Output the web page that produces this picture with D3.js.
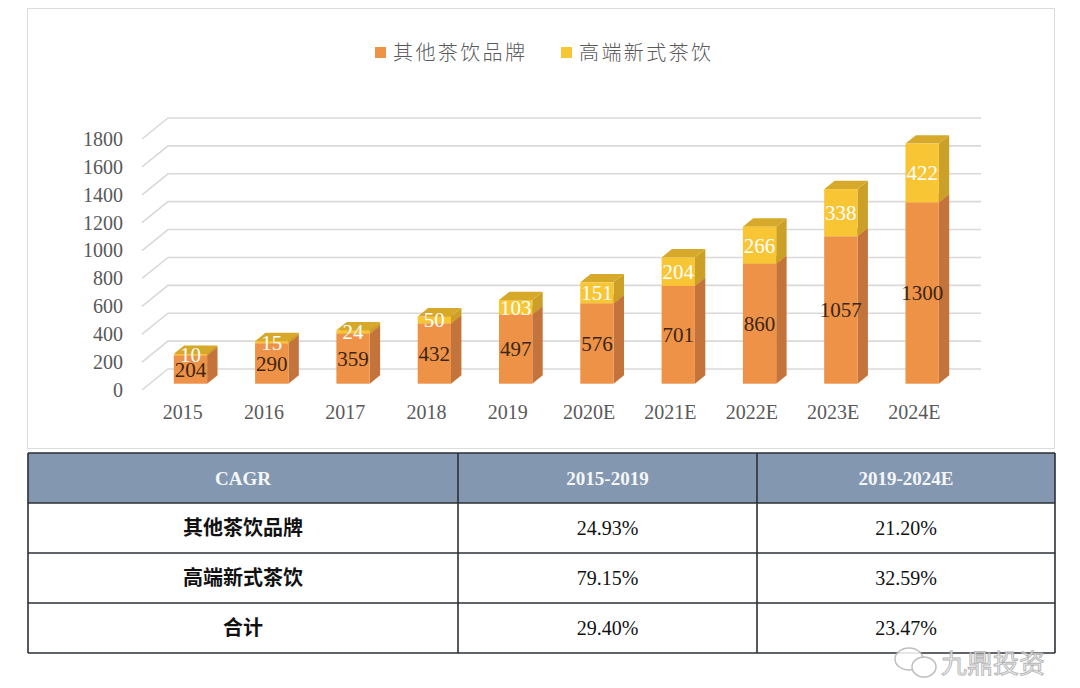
<!DOCTYPE html>
<html>
<head>
<meta charset="utf-8">
<script src="https://cdn.jsdelivr.net/npm/d3@7"></script>
<style>
  body { margin: 0; background: #fff; }
  svg { display: block; }
</style>
</head>
<body>
<div id="wrapper"></div>
<script>
// chart data
const categories = ["2015", "2016", "2017", "2018", "2019", "2020E", "2021E", "2022E", "2023E", "2024E"];
const otherBrands = [204, 290, 359, 432, 497, 576, 701, 860, 1057, 1300];
const premiumTea = [10, 15, 24, 50, 103, 151, 204, 266, 338, 422];
const seriesNames = ["其他茶饮品牌", "高端新式茶饮"];
const yTicks = [0, 200, 400, 600, 800, 1000, 1200, 1400, 1600, 1800];

// CAGR table
const tableHeader = ["CAGR", "2015-2019", "2019-2024E"];
const tableRows = ["其他茶饮品牌", "高端新式茶饮", "合计"];
const cagr2015to2019 = ["24.93%", "79.15%", "29.40%"];
const cagr2019to2024 = ["21.20%", "32.59%", "23.47%"];

function drawChart() {
  const width = 1080;
  const height = 688;

  const serif = "'Liberation Serif', 'Times New Roman', serif";
  const cjk = "'Noto Sans CJK SC', 'Noto Sans', sans-serif";

  // 3d look: depth vector from the front plane to the back wall
  const depth = { dx: 26, dy: -21 };
  const barDepthStart = 0.3;
  const barDepthEnd = 0.7;

  const colors = {
    front: ["#ee9247", "#f8c535"],
    side:  ["#c4733a", "#cc9f27"],
    top:   ["#d8803c", "#d6a92b"],
    label: ["#3b2616", "#ffffff"],
  };

  const svg = d3.select("#wrapper")
    .append("svg")
    .attr("width", width)
    .attr("height", height);

  // chart frame
  svg.append("rect")
    .attr("x", 27.5).attr("y", 8.5)
    .attr("width", 1027).attr("height", 440)
    .attr("fill", "#fff")
    .attr("stroke", "#dcdcdc");

  const xScale = d3.scaleBand()
    .domain(categories)
    .range([142, 955]);

  const yScale = d3.scaleLinear()
    .domain([0, 1800])
    .range([390, 139]);

  const barWidth = xScale.bandwidth() * 0.41;

  // gridlines: a short diagonal on the floor side then along the back wall
  const grid = svg.append("g");
  const x0 = xScale.range()[0];
  const x1 = xScale.range()[1];
  yTicks.forEach(v => {
    const y = yScale(v);
    grid.append("path")
      .attr("d", `M${x0},${y} L${x0 + depth.dx},${y + depth.dy} L${x1 + depth.dx},${y + depth.dy}`)
      .attr("fill", "none")
      .attr("stroke", "#d9d9d9")
      .attr("stroke-width", 1.6);
  });

  // axes
  const yAxis = svg.append("g")
    .attr("transform", `translate(${x0},0)`)
    .call(d3.axisLeft(yScale).tickValues(yTicks).tickFormat(d3.format("d")).tickSize(0).tickPadding(19));
  yAxis.select(".domain").remove();
  yAxis.selectAll("text")
    .attr("font-family", serif)
    .attr("font-size", 20)
    .attr("fill", "#595959");

  const xAxis = svg.append("g")
    .attr("transform", `translate(0,${yScale(0)})`)
    .call(d3.axisBottom(xScale).tickSize(0).tickPadding(15));
  xAxis.select(".domain").remove();
  xAxis.selectAll("text")
    .attr("font-family", serif)
    .attr("font-size", 20)
    .attr("fill", "#595959");

  // stacked bars
  const rows = categories.map((c, i) => ({ cat: c, a: otherBrands[i], b: premiumTea[i] }));
  const stacked = d3.stack().keys(["a", "b"])(rows);

  const offX = depth.dx * barDepthStart;
  const offY = depth.dy * barDepthStart;
  const bdx = depth.dx * (barDepthEnd - barDepthStart);
  const bdy = depth.dy * (barDepthEnd - barDepthStart);

  const bars = svg.append("g");
  stacked.forEach((series, si) => {
    const g = bars.append("g");
    series.forEach(d => {
      const cx = xScale(d.data.cat) + xScale.bandwidth() / 2 + offX;
      const left = cx - barWidth / 2;
      const right = cx + barWidth / 2;
      const yTop = yScale(d[1]) + offY;
      const yBot = yScale(d[0]) + offY;

      g.append("path")
        .attr("d", `M${right},${yTop} L${right + bdx},${yTop + bdy} L${right + bdx},${yBot + bdy} L${right},${yBot} Z`)
        .attr("fill", colors.side[si]);
      g.append("path")
        .attr("d", `M${left},${yTop} L${left + bdx},${yTop + bdy} L${right + bdx},${yTop + bdy} L${right},${yTop} Z`)
        .attr("fill", colors.top[si]);
      g.append("rect")
        .attr("x", left).attr("y", yTop)
        .attr("width", barWidth).attr("height", yBot - yTop)
        .attr("fill", colors.front[si]);
    });
  });

  // value labels sit on top of everything
  const labels = svg.append("g");
  stacked.forEach((series, si) => {
    labels.selectAll(null)
      .data(series)
      .enter().append("text")
      .attr("x", d => xScale(d.data.cat) + xScale.bandwidth() / 2 + offX)
      .attr("y", d => (yScale(d[0]) + yScale(d[1])) / 2 + offY)
      .attr("dy", "0.35em")
      .attr("text-anchor", "middle")
      .attr("font-family", serif)
      .attr("font-size", 21)
      .attr("fill", colors.label[si])
      .text(d => d[1] - d[0]);
  });

  // legend
  const legend = svg.append("g");
  const legendX = [375, 561];
  seriesNames.forEach((name, i) => {
    legend.append("rect")
      .attr("x", legendX[i]).attr("y", 47)
      .attr("width", 11).attr("height", 11)
      .attr("fill", colors.front[i]);
    legend.append("text")
      .attr("x", legendX[i] + 18).attr("y", 53)
      .attr("dy", "0.35em")
      .attr("font-family", cjk)
      .attr("font-weight", 300)
      .attr("font-size", 20)
      .attr("letter-spacing", 2.4)
      .attr("fill", "#595959")
      .text(name);
  });

  // CAGR table
  const colEdges = [28, 458, 757, 1055];
  const rowScale = d3.scaleBand()
    .domain(["header", ...tableRows])
    .range([453, 653]);

  const table = svg.append("g");
  table.append("rect")
    .attr("x", colEdges[0]).attr("y", rowScale("header"))
    .attr("width", colEdges[3] - colEdges[0])
    .attr("height", rowScale.bandwidth())
    .attr("fill", "#8497b0");

  tableHeader.forEach((t, c) => {
    table.append("text")
      .attr("x", (colEdges[c] + colEdges[c + 1]) / 2)
      .attr("y", rowScale("header") + rowScale.bandwidth() / 2)
      .attr("dy", "0.35em")
      .attr("text-anchor", "middle")
      .attr("font-family", serif)
      .attr("font-weight", "bold")
      .attr("font-size", 19)
      .attr("fill", "#f4f6f8")
      .text(t);
  });

  tableRows.forEach((r, i) => {
    const yc = rowScale(r) + rowScale.bandwidth() / 2;
    table.append("text")
      .attr("x", (colEdges[0] + colEdges[1]) / 2)
      .attr("y", yc)
      .attr("dy", "0.35em")
      .attr("text-anchor", "middle")
      .attr("font-family", cjk)
      .attr("font-weight", "bold")
      .attr("font-size", 20)
      .attr("fill", "#111")
      .text(r);
    [cagr2015to2019[i], cagr2019to2024[i]].forEach((v, k) => {
      table.append("text")
        .attr("x", (colEdges[k + 1] + colEdges[k + 2]) / 2)
        .attr("y", yc)
        .attr("dy", "0.35em")
        .attr("text-anchor", "middle")
        .attr("font-family", serif)
        .attr("font-size", 20)
        .attr("fill", "#111")
        .text(v);
    });
  });

  // table lines
  const lineColor = "#2b2f36";
  rowScale.domain().forEach(k => {
    table.append("line")
      .attr("x1", colEdges[0]).attr("x2", colEdges[3])
      .attr("y1", rowScale(k)).attr("y2", rowScale(k))
      .attr("stroke", lineColor).attr("stroke-width", 1.6);
  });
  table.append("line")
    .attr("x1", colEdges[0]).attr("x2", colEdges[3])
    .attr("y1", 653).attr("y2", 653)
    .attr("stroke", lineColor).attr("stroke-width", 1.6);
  colEdges.forEach(x => {
    table.append("line")
      .attr("x1", x).attr("x2", x)
      .attr("y1", 453).attr("y2", 653)
      .attr("stroke", lineColor).attr("stroke-width", 1.6);
  });

  // watermark
  const wm = svg.append("g").attr("opacity", 0.85);
  wm.append("ellipse")
    .attr("cx", 909).attr("cy", 659).attr("rx", 14).attr("ry", 11)
    .attr("fill", "#fff").attr("stroke", "#b5b5b5").attr("stroke-width", 1.5);
  wm.append("ellipse")
    .attr("cx", 924).attr("cy", 667).attr("rx", 12).attr("ry", 10)
    .attr("fill", "#fff").attr("stroke", "#b5b5b5").attr("stroke-width", 1.5);
  wm.append("text")
    .attr("x", 941).attr("y", 664)
    .attr("dy", "0.35em")
    .attr("font-family", cjk)
    .attr("font-size", 26)
    .attr("fill", "#f2f2f2")
    .attr("stroke", "#a8a8a8")
    .attr("stroke-width", 0.9)
    .text("九鼎投资");
}

drawChart();
</script>
</body>
</html>
